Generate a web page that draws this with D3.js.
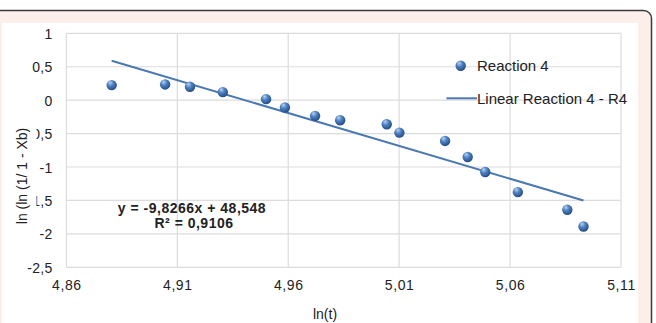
<!DOCTYPE html>
<html>
<head>
<meta charset="utf-8">
<script src="https://cdn.jsdelivr.net/npm/d3@7"></script>
<style>
  body { margin: 0; background: #fff; }
  svg { display: block; }
  text { font-family: "Liberation Sans", Arial, sans-serif; fill: #222; }
</style>
</head>
<body>
<div id="chart"></div>
<script>
// data
const lnT   = [4.8804, 4.9045, 4.9157, 4.9305, 4.9500, 4.9585, 4.9721, 4.9834,
               5.0044, 5.0101, 5.0307, 5.0409, 5.0488, 5.0635, 5.0858, 5.0931];
const lnLn  = [0.225, 0.235, 0.20, 0.12, 0.015, -0.11, -0.235, -0.30,
               -0.36, -0.485, -0.61, -0.85, -1.075, -1.375, -1.64, -1.89];
// linear trendline end points
const trendX = [4.8804, 5.0931];
const trendY = [0.59, -1.50];
const xTicks = [4.86, 4.91, 4.96, 5.01, 5.06, 5.11];
const yTicks = [1, 0.5, 0, -0.5, -1, -1.5, -2, -2.5];
const seriesName = "Reaction 4";
const trendName = "Linear Reaction 4 - R4";
const eqText = "y = -9,8266x + 48,548";
const r2Text = "R² = 0,9106";

const W = 656, H = 323;
const svg = d3.select("#chart").append("svg")
    .attr("width", W).attr("height", H);

// glossy marker
const defs = svg.append("defs");
const grad = defs.append("radialGradient").attr("id", "ball")
    .attr("cx", "40%").attr("cy", "35%").attr("r", "65%")
    .attr("fx", "35%").attr("fy", "25%");
grad.append("stop").attr("offset", "0%").attr("stop-color", "#b9d3f2");
grad.append("stop").attr("offset", "45%").attr("stop-color", "#4f82c3");
grad.append("stop").attr("offset", "100%").attr("stop-color", "#234d86");

// outer frame
svg.append("rect")
    .attr("x", -12).attr("y", 10.5).attr("width", 663.5).attr("height", 330)
    .attr("rx", 8)
    .attr("fill", "#fcefe9").attr("stroke", "#3a3a3a").attr("stroke-width", 1.5);
svg.append("rect")
    .attr("x", 2).attr("y", 23).attr("width", 636).attr("height", 310)
    .attr("fill", "#fff");

const x = d3.scaleLinear().domain([4.86, 5.11]).range([66.4, 621]);
const y = d3.scaleLinear().domain([-2.5, 1]).range([267.3, 33.3]);

// gridlines
const grid = svg.append("g").attr("stroke", "#dcdcdc").attr("stroke-width", 1.2);
grid.selectAll("line.v").data(xTicks).join("line").attr("class", "v")
    .attr("x1", d => x(d)).attr("x2", d => x(d))
    .attr("y1", y(1)).attr("y2", y(-2.5));
grid.selectAll("line.h").data(yTicks).join("line").attr("class", "h")
    .attr("x1", x(4.86)).attr("x2", x(5.11))
    .attr("y1", d => y(d)).attr("y2", d => y(d));

const fmt = d => String(d).replace(".", ",");

// axes (labels only)
const xAxis = svg.append("g")
    .attr("transform", `translate(0,${y(-2.5)})`)
    .call(d3.axisBottom(x).tickValues(xTicks).tickFormat(d => d3.format(".2f")(d).replace(".", ",")).tickSize(0).tickPadding(0));
xAxis.select(".domain").remove();
xAxis.selectAll("text").attr("y", 23).attr("dy", 0)
    .style("font-size", "14px").style("font-family", "Liberation Sans, Arial")
    .attr("fill", "#222").attr("letter-spacing", "0.6px");

const yAxis = svg.append("g")
    .attr("transform", `translate(52.5,0)`)
    .call(d3.axisLeft(y).tickValues(yTicks).tickFormat(fmt).tickSize(0).tickPadding(0));
yAxis.select(".domain").remove();
yAxis.selectAll("text").attr("dy", "0.36em")
    .style("font-size", "14px").style("font-family", "Liberation Sans, Arial")
    .attr("fill", "#222").attr("letter-spacing", "0.3px");

// y axis title, sits over part of the tick labels
svg.append("rect").attr("x", 11).attr("y", 117).attr("width", 25.5).attr("height", 117)
    .attr("fill", "#fff");
svg.append("text")
    .attr("transform", "translate(27,176) rotate(-90)")
    .attr("text-anchor", "middle")
    .style("font-size", "14px")
    .text("ln (ln (1/ 1 - Xb)");

svg.append("text")
    .attr("x", 325).attr("y", 319)
    .attr("text-anchor", "middle")
    .style("font-size", "14px")
    .text("ln(t)");

// trendline
svg.append("line")
    .attr("x1", x(trendX[0])).attr("y1", y(trendY[0]))
    .attr("x2", x(trendX[1])).attr("y2", y(trendY[1]))
    .attr("stroke", "#4a78b2").attr("stroke-width", 2);

// points
svg.selectAll("circle.pt").data(lnT.map((t, i) => [t, lnLn[i]])).join("circle")
    .attr("class", "pt")
    .attr("cx", d => x(d[0])).attr("cy", d => y(d[1]))
    .attr("r", 5.2).attr("fill", "url(#ball)");

// equation
svg.append("text").attr("x", 192).attr("y", 212.7).attr("text-anchor", "middle")
    .style("font-size", "14px").style("font-weight", "bold").attr("letter-spacing", "0.5px")
    .text(eqText);
svg.append("text").attr("x", 194).attr("y", 227.5).attr("text-anchor", "middle")
    .style("font-size", "14px").style("font-weight", "bold").attr("letter-spacing", "0.5px")
    .text(r2Text);

// legend
const lg = svg.append("g");
lg.append("circle").attr("cx", 460.7).attr("cy", 65.7).attr("r", 5.2).attr("fill", "url(#ball)");
lg.append("text").attr("x", 477).attr("y", 71).style("font-size", "15px").text(seriesName);
lg.append("line").attr("x1", 446.5).attr("x2", 477).attr("y1", 98.3).attr("y2", 98.3)
    .attr("stroke", "#4a78b2").attr("stroke-width", 2);
lg.append("text").attr("x", 477).attr("y", 103.5).style("font-size", "15px").text(trendName);
</script>
</body>
</html>
